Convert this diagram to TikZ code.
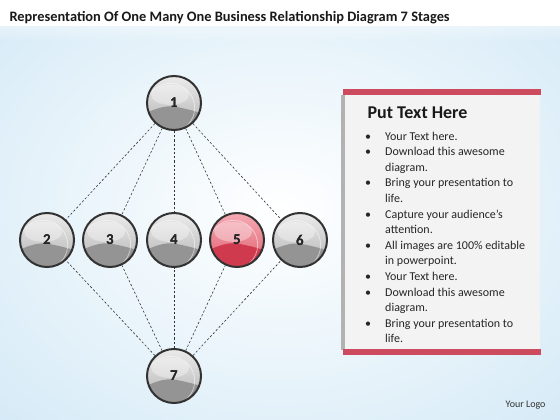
\documentclass[tikz,border=0pt]{standalone}
\usepackage{fontspec}
\setmainfont{Carlito}
\usepackage{enumitem}
\usetikzlibrary{fadings}
\definecolor{bgblue}{RGB}{205,230,245}
\definecolor{ringc}{RGB}{50,50,50}
\definecolor{gtop}{RGB}{235,235,235}
\definecolor{gbot}{RGB}{180,180,180}
\definecolor{glow}{RGB}{148,148,148}
\definecolor{rtop}{RGB}{245,170,180}
\definecolor{rbot}{RGB}{225,95,110}
\definecolor{rlow}{RGB}{208,58,78}
\definecolor{barred}{RGB}{205,75,95}
\definecolor{boxfill}{RGB}{243,243,243}
\begin{document}
\begin{tikzpicture}[x=1pt,y=-1pt,
  orb/.style 2 args={circle, minimum size=54pt, inner sep=0pt, draw=ringc, line width=2pt,
    top color=#1, bottom color=#2,
    font=\bfseries\fontsize{15}{15}\selectfont, text=black!85},
  lower/.style={path picture={\begin{scope}[shift={(path picture bounding box.center)}]
     \fill[#1] (-30,8) .. controls (-14,0) and (-4,-3) .. (6,-1) .. controls (16,1) and (24,3) .. (30,5) -- (30,30) -- (-30,30) -- cycle;
     \fill[white, opacity=0.35] (0,-13) ellipse [x radius=19pt, y radius=10pt];
     \draw[white, opacity=0.5, line width=0.8pt] (0,0) circle [radius=24.5pt];
     \end{scope}}},
  link/.style={draw=black!80, line width=0.6pt, dash pattern=on 2.2pt off 2pt},
  bar/.style={fill=barred}]
\useasboundingbox (0,0) rectangle (560,420);
% background
\shade[inner color=white, outer color=bgblue] (-200,-150) rectangle (760,570);
\fill[white, path fading=south] (0,0) rectangle (560,42);
\fill[white] (0,0) rectangle (560,26);
% title
\node[anchor=west, font=\bfseries\fontsize{14.4}{14.4}\selectfont, text=black!90] (title) at (6,18) {Representation Of One Many One Business Relationship Diagram 7 Stages};
% orbs
\node[orb={gtop}{gbot}, lower=glow] (n1) at (174,103) {1};
\node[orb={gtop}{gbot}, lower=glow] (n2) at (47,240) {2};
\node[orb={gtop}{gbot}, lower=glow] (n3) at (110,240) {3};
\node[orb={gtop}{gbot}, lower=glow] (n4) at (174,240) {4};
\node[orb={rtop}{rbot}, lower=rlow] (n5) at (237,240) {5};
\node[orb={gtop}{gbot}, lower=glow] (n6) at (300,240) {6};
\node[orb={gtop}{gbot}, lower=glow] (n7) at (174,376) {7};
% numbers on top of the shading
\foreach \i in {1,...,7} {\node[font=\bfseries\fontsize{15}{15}\selectfont, text=black!85] (l\i) at (n\i) {\i};}
% links
\foreach \i in {2,...,6} {
  \draw[link] (n1) -- (n\i);
  \draw[link] (n7) -- (n\i);
}
% text box
\fill[black!30] (341,95) rectangle (346,350);
\node[fill=boxfill, minimum width=195pt, minimum height=255pt, inner sep=0pt, anchor=north west] (box) at (345,95) {};
\fill[bar] (343,89) rectangle (541,95);
\fill[bar] (343,349) rectangle (541,355);
\node[anchor=west, font=\bfseries\fontsize{18}{18}\selectfont, text=black!90] (head) at (364,113) {Put Text Here};
\node[anchor=north west, inner sep=0pt, text=black!85] (body) at (362,131.5) {\begin{minipage}{165pt}\fontsize{12}{15.6}\selectfont\raggedright\hyphenpenalty=10000\exhyphenpenalty=10000
\begin{itemize}[leftmargin=23pt, labelsep=14pt, itemsep=0pt, topsep=0pt, parsep=0pt, partopsep=0pt, label=\textbullet]
\item Your Text here.
\item Download this awesome diagram.
\item Bring your presentation to life.
\item Capture your audience’s attention.
\item All images are 100\% editable in powerpoint.
\item Your Text here.
\item Download this awesome diagram.
\item Bring your presentation to life.
\end{itemize}\end{minipage}};
\node[anchor=east, font=\fontsize{10}{10}\selectfont, text=black!80] (logo) at (549,405) {Your Logo};
\end{tikzpicture}
\end{document}
